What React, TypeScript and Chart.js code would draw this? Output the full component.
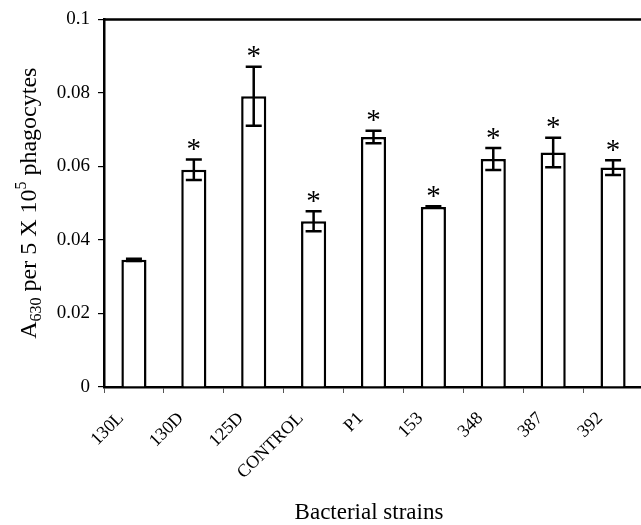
import React, { useEffect, useRef } from "react";
import { Chart, registerables } from "chart.js";

Chart.register(...registerables);

const categories = ["130L", "130D", "125D", "CONTROL", "P1", "153", "348", "387", "392"];
const values = [0.0346, 0.0591, 0.0791, 0.0451, 0.068, 0.049, 0.062, 0.0638, 0.0597];
const errors = [0.0003, 0.0028, 0.008, 0.0027, 0.0017, 0.0002, 0.003, 0.004, 0.002];
const significant = [false, true, true, true, true, true, true, true, true];
const yTicks = [0, 0.02, 0.04, 0.06, 0.08, 0.1];
const xTitle = "Bacterial strains";

const SERIF = "'Liberation Serif', 'Times New Roman', serif";

const overlay = {
  id: "overlay",
  afterDatasetsDraw(chart: any) {
    const ctx = chart.ctx as CanvasRenderingContext2D;
    const meta = chart.getDatasetMeta(0);
    const ys = chart.scales.y;
    const { left, top, right, bottom } = chart.chartArea;
    ctx.save();
    ctx.strokeStyle = "#000";
    ctx.fillStyle = "#000";
    ctx.lineWidth = 2.5;
    ctx.beginPath();
    ctx.moveTo(left, top);
    ctx.lineTo(right, top);
    ctx.lineTo(right, bottom);
    ctx.stroke();

    meta.data.forEach((bar: any, i: number) => {
      const x = bar.x;
      const yHi = ys.getPixelForValue(values[i] + errors[i]);
      const yLo = ys.getPixelForValue(values[i] - errors[i]);
      ctx.lineWidth = 2.5;
      ctx.beginPath();
      ctx.moveTo(x, yHi);
      ctx.lineTo(x, yLo);
      ctx.moveTo(x - 8, yHi);
      ctx.lineTo(x + 8, yHi);
      ctx.moveTo(x - 8, yLo);
      ctx.lineTo(x + 8, yLo);
      ctx.stroke();
      if (significant[i]) {
        ctx.font = `29px ${SERIF}`;
        ctx.textAlign = "center";
        ctx.textBaseline = "alphabetic";
        const m = ctx.measureText("*");
        const cy = yHi - 15;
        const baseY = cy + (m.actualBoundingBoxAscent - m.actualBoundingBoxDescent) / 2;
        ctx.fillText("*", x, baseY);
      }
    });

    // y title with subscript / superscript
    const size = 24;
    const small = 16;
    const parts = [
      { t: "A", s: size, dy: 0 },
      { t: "630", s: small, dy: 5 },
      { t: " per 5 X 10", s: size, dy: 0 },
      { t: "5", s: small, dy: -10 },
      { t: " phagocytes", s: size, dy: 0 },
    ];
    let total = 0;
    parts.forEach((p) => {
      ctx.font = `${p.s}px ${SERIF}`;
      total += ctx.measureText(p.t).width;
    });
    ctx.save();
    ctx.translate(36, (top + bottom) / 2);
    ctx.rotate(-Math.PI / 2);
    ctx.textAlign = "left";
    ctx.textBaseline = "alphabetic";
    let cx = -total / 2;
    parts.forEach((p) => {
      ctx.font = `${p.s}px ${SERIF}`;
      ctx.fillText(p.t, cx, p.dy);
      cx += ctx.measureText(p.t).width;
    });
    ctx.restore();

    // x title
    ctx.font = `23px ${SERIF}`;
    ctx.textAlign = "center";
    ctx.textBaseline = "alphabetic";
    ctx.fillText(xTitle, 369, 519);
    ctx.restore();
  },
};

export default function App() {
  const ref = useRef<HTMLCanvasElement | null>(null);
  useEffect(() => {
    if (!ref.current) return;
    Chart.defaults.font.family = SERIF;
    Chart.defaults.color = "#000";
    const chart = new Chart(ref.current, {
      type: "bar",
      data: {
        labels: categories,
        datasets: [
          {
            data: values,
            backgroundColor: "#fff",
            borderColor: "#000",
            borderWidth: 2.5,
            barPercentage: 0.42,
            categoryPercentage: 1,
          },
        ],
      },
      options: {
        responsive: false,
        animation: false,
        layout: { padding: { left: 0, right: 17, top: 18, bottom: 0 } },
        plugins: { legend: { display: false }, tooltip: { enabled: false } },
        scales: {
          x: {
            grid: {
              display: true,
              offset: true,
              drawOnChartArea: false,
              drawTicks: true,
              tickLength: 6,
              color: "#555",
              lineWidth: 1,
            },
            border: { display: true, color: "#000", width: 2.5 },
            ticks: {
              font: { size: 18, family: SERIF },
              color: "#000",
              minRotation: 45,
              maxRotation: 45,
              autoSkip: false,
              labelOffset: -13,
              padding: 15,
            },
            afterFit: (s: any) => {
              s.height = 138;
            },
          },
          y: {
            min: 0,
            max: 0.1,
            afterBuildTicks: (s: any) => {
              s.ticks = yTicks.map((v) => ({ value: v }));
            },
            grid: {
              display: true,
              drawOnChartArea: false,
              drawTicks: true,
              tickLength: 6,
              color: "#000",
              lineWidth: 1.2,
            },
            border: { display: true, color: "#000", width: 2.5 },
            ticks: {
              font: { size: 19, family: SERIF },
              color: "#000",
              padding: 8,
              callback: (v: any) => String(v),
            },
            afterFit: (s: any) => {
              s.width = 104;
            },
          },
        },
      },
      plugins: [overlay],
    });
    return () => chart.destroy();
  }, []);
  return (
    <div
      style={{
        position: "fixed",
        left: 0,
        top: 0,
        width: 641,
        height: 525,
        overflow: "hidden",
        background: "#fff",
      }}
    >
      <canvas ref={ref} width={660} height={525} style={{ display: "block" }} />
    </div>
  );
}
